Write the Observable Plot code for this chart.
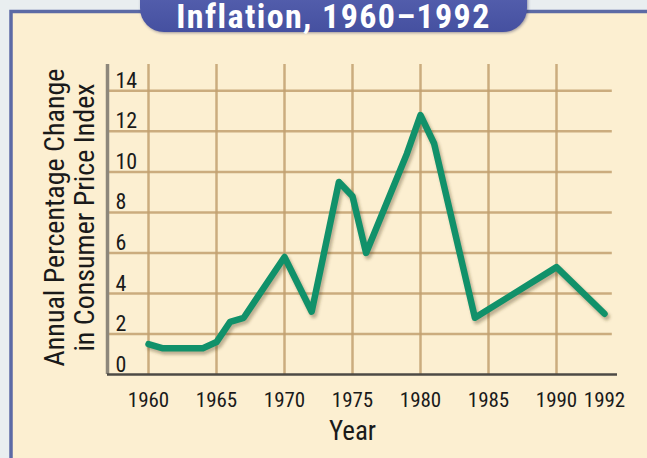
<!DOCTYPE html>
<html><head><meta charset="utf-8">
<script src="https://cdn.jsdelivr.net/npm/d3@7"></script>
<script src="https://cdn.jsdelivr.net/npm/@observablehq/plot@0.6"></script>
<style>
html,body{margin:0;padding:0;background:#e9eef0;}
#chart{width:647px;height:458px;overflow:hidden;position:relative;}
#chart svg{display:block;}
</style></head><body><div id="chart"></div>
<script>
// ---- data ----
const years     = [1960, 1961, 1964, 1965, 1966, 1967, 1970, 1972, 1974, 1975, 1976, 1979, 1980, 1981, 1984, 1990, 1992];
const inflation = [1.5,  1.3,  1.3,  1.6,  2.6,  2.8,  5.8,  3.1,  9.5,  8.8,  6.0,  10.9, 12.8, 11.4, 2.8,  5.3,  3.0];
const yTicks = [0, 2, 4, 6, 8, 10, 12, 14];
const xTicks = [1960, 1965, 1970, 1975, 1980, 1985, 1990, 1992];
const gridYears = [1960, 1965, 1970, 1975, 1980, 1985, 1990];
const title = "Inflation, 1960–1992";
const yTitle = "Annual Percentage Change\nin Consumer Price Index";
const xTitle = "Year";

const data = years.map((year, i) => ({year, value: inflation[i]}));
const FONT = "'Liberation Sans Narrow','Roboto Condensed','DejaVu Sans Condensed','Liberation Sans',sans-serif";

const chart = Plot.plot({
  width: 647, height: 458,
  marginLeft: 107, marginRight: 30, marginTop: 64, marginBottom: 84,
  style: {background: "transparent", fontFamily: FONT, overflow: "visible"},
  x: {type: "linear", domain: [1957, 1960, 1990, 1992, 1993], range: [107, 148, 556, 604, 617], axis: null},
  y: {domain: [0, 15.3], range: [374, 64], axis: null},
  marks: [
    Plot.ruleY(yTicks.filter(d => d > 0), {x1: 1957, x2: 1992.6, stroke: "#c2a070", strokeWidth: 2.5, strokeOpacity: 0.85}),
    Plot.ruleX(gridYears, {y1: 0, y2: 15.3, stroke: "#c2a070", strokeWidth: 2.5, strokeOpacity: 0.85}),
    Plot.ruleX([1957], {y1: 0, y2: 15.3, stroke: "#8d877b", strokeWidth: 3.5}),
    Plot.ruleY([0], {x1: 1957, x2: 1993, stroke: "#4d4a45", strokeWidth: 2.5}),
    Plot.line(data, {x: "year", y: "value", stroke: "#4a3a20", strokeOpacity: 0.35, strokeWidth: 7, dx: 2, dy: 3, strokeLinejoin: "round"}),
    Plot.line(data, {x: "year", y: "value", stroke: "#11916a", strokeWidth: 6.5, strokeLinejoin: "round", strokeLinecap: "round"}),
    Plot.text(yTicks, {x: 1957, y: d => d, text: d => String(d), dx: 8, dy: -10, textAnchor: "start", fontSize: 22, fill: "#1a1a1a"}),
    Plot.text(xTicks, {x: d => d, y: 0, text: d => String(d), dy: 26, fontSize: 21, fill: "#1a1a1a"}),
    Plot.text([xTitle], {x: 1975, y: 0, text: d => d, dy: 57, fontSize: 27, fill: "#1a1a1a"}),
    Plot.text([yTitle], {frameAnchor: "left", text: d => d, dx: -38, dy: -2, rotate: -90, textAnchor: "middle", lineAnchor: "middle", fontSize: 28, lineHeight: 1.08, fill: "#1a1a1a"})
  ]
});

const svg = d3.select(chart);
const defs = svg.insert("defs", ":first-child");
defs.append("filter").attr("id", "soft").attr("x", "-5%").attr("y", "-5%").attr("width", "110%").attr("height", "110%")
  .append("feGaussianBlur").attr("stdDeviation", 0.7);
defs.append("filter").attr("id", "shadowBlur").attr("x", "-10%").attr("y", "-10%").attr("width", "120%").attr("height", "120%")
  .append("feGaussianBlur").attr("stdDeviation", 1.6);
const grad = defs.append("linearGradient").attr("id", "pillGrad").attr("x1", 0).attr("y1", 0).attr("x2", 0).attr("y2", 1);
grad.append("stop").attr("offset", "0%").attr("stop-color", "#5c67b4");
grad.append("stop").attr("offset", "100%").attr("stop-color", "#4550a0");

// background + panel
const bg = svg.insert("g", "defs + *");
bg.append("rect").attr("x", 0).attr("y", 0).attr("width", 647).attr("height", 458).attr("fill", "#e9eef0");
bg.append("rect").attr("x", 11).attr("y", 11.5).attr("width", 700).attr("height", 500)
  .attr("fill", "#fcefd1").attr("stroke", "#5c6aa5").attr("stroke-width", 3.5);

// soften grid lines and shadow
const rules = svg.selectAll("g[aria-label='rule']").nodes();
rules.slice(0, 2).forEach(n => n.setAttribute("filter", "url(#soft)"));
const lines = svg.selectAll("g[aria-label='line']").nodes();
if (lines[0]) lines[0].setAttribute("filter", "url(#shadowBlur)");

// title pill
const pill = svg.append("g");
pill.append("rect").attr("x", 141).attr("y", -25).attr("width", 387).attr("height", 58).attr("rx", 24)
  .attr("fill", "#23285a").attr("opacity", 0.45).attr("filter", "url(#shadowBlur)");
pill.append("rect").attr("x", 140).attr("y", -26).attr("width", 387).attr("height", 58).attr("rx", 24)
  .attr("fill", "url(#pillGrad)");
pill.append("text").attr("x", 333.5).attr("y", 28).attr("text-anchor", "middle")
  .attr("font-family", FONT).attr("font-weight", "bold").attr("font-size", 34).attr("letter-spacing", 1.4)
  .attr("fill", "white").text(title);

document.getElementById("chart").appendChild(chart);
</script></body></html>
